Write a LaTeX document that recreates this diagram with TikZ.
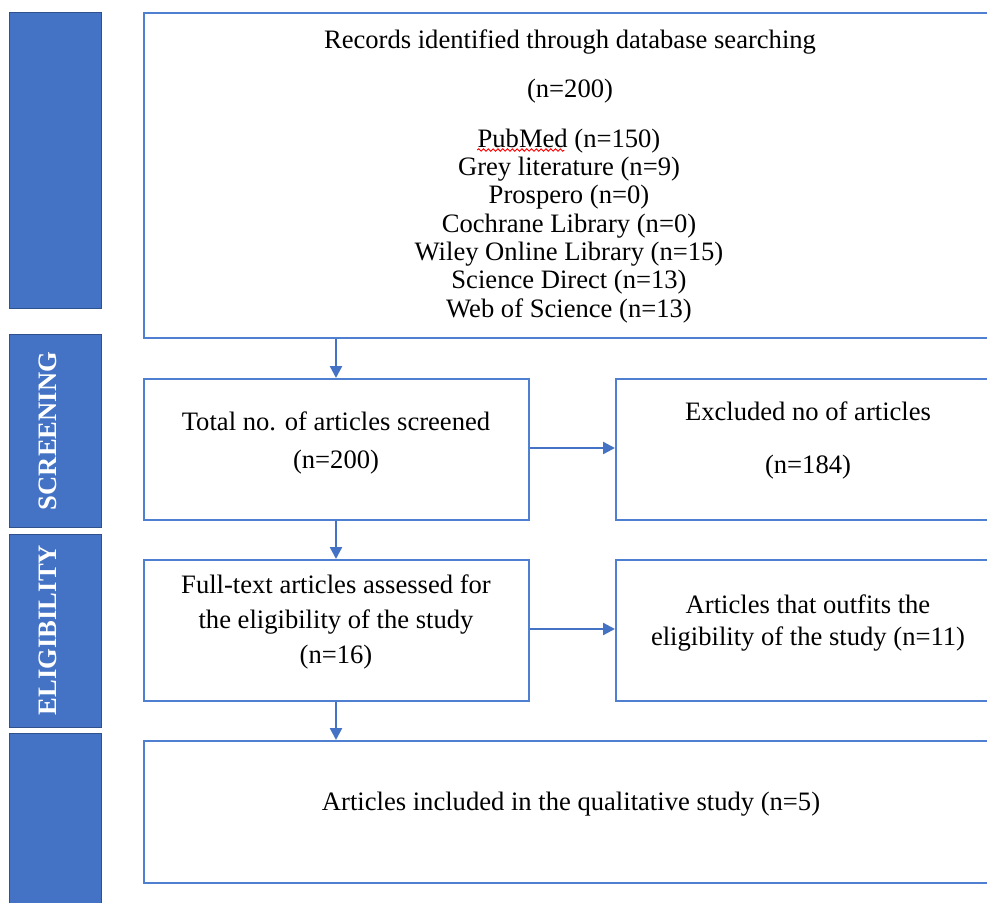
\documentclass[tikz,border=0pt]{standalone}
\usepackage{fontspec}
\setmainfont{Liberation Serif}
\usetikzlibrary{arrows.meta,decorations.pathmorphing}
\definecolor{bluefill}{HTML}{4472C4}
\definecolor{blueedge}{HTML}{2F528F}
\definecolor{boxedge}{HTML}{4F7FD0}
\begin{document}
\begin{tikzpicture}[x=0.5pt,y=-0.5pt,
  stage/.style={draw=blueedge,line width=0.4pt,fill=bluefill,anchor=north west,inner sep=0pt},
  flowbox/.style={draw=boxedge,line width=0.8pt,anchor=north west,inner sep=0pt},
  txt/.style={anchor=base,inner sep=0pt,font=\fontsize{13.3}{15}\selectfont},
  stagetxt/.style={rotate=90,inner sep=0pt,text=white,font=\fontsize{13.3}{15}\selectfont\bfseries},
  flow/.style={draw=bluefill,line width=1.2pt,-{Triangle[width=6pt,length=6pt]}}]
\useasboundingbox (0,0) rectangle (987,902);
\clip (0,0) rectangle (987,902);
% stage bars
\node[stage,minimum width=46pt,minimum height=148pt] (bar1) at (9,12) {};
\node[stage,minimum width=46pt,minimum height=96.5pt] (bar2) at (9,334) {};
\node[stage,minimum width=46pt,minimum height=96.5pt] (bar3) at (9,534) {};
\node[stage,minimum width=46pt,minimum height=100pt] (bar4) at (9,733) {};
\node[stagetxt] (lab2) at (47.5,431) {SCREENING};
\node[stagetxt] (lab3) at (47.5,630) {ELIGIBILITY};
% boxes
\node[flowbox,minimum width=430pt,minimum height=162.5pt] (rec) at (143,12) {};
\node[flowbox,minimum width=192.5pt,minimum height=70.5pt] (scr) at (143,378) {};
\node[flowbox,minimum width=200pt,minimum height=70.5pt] (exc) at (615,378) {};
\node[flowbox,minimum width=192.5pt,minimum height=70.5pt] (ful) at (143,559) {};
\node[flowbox,minimum width=200pt,minimum height=70.5pt] (out) at (615,559) {};
\node[flowbox,minimum width=430pt,minimum height=71pt] (inc) at (143,740) {};
% texts
\node[txt] (t1) at (570,48) {Records identified through database searching};
\node[txt] (t2) at (570,97) {(n=200)};
\node[txt] (t3) at (569,147) {PubMed (n=150)};
\node[txt] (t4) at (569,175) {Grey literature (n=9)};
\node[txt] (t5) at (569,203.5) {Prospero (n=0)};
\node[txt] (t6) at (569,232) {Cochrane Library (n=0)};
\node[txt] (t7) at (569,260) {Wiley Online Library (n=15)};
\node[txt] (t8) at (569,288.5) {Science Direct (n=13)};
\node[txt] (t9) at (569,317) {Web of Science (n=13)};
\draw[red,line width=0.45pt,decorate,decoration={snake,amplitude=0.6pt,segment length=2.4pt}] (t3.base west) ++(0,3) coordinate (sq1) -- ++(87,0) coordinate (sq2);
\node[txt] (s1) at (336,430) {Total no. of articles screened};
\node[txt] (s2) at (336,468) {(n=200)};
\node[txt] (e1) at (808,420) {Excluded no of articles};
\node[txt] (e2) at (808,473) {(n=184)};
\node[txt] (f1) at (336,593) {Full-text articles assessed for};
\node[txt] (f2) at (336,628) {the eligibility of the study};
\node[txt] (f3) at (336,663) {(n=16)};
\node[txt] (o1) at (808,613) {Articles that outfits the};
\node[txt] (o2) at (808,645) {eligibility of the study (n=11)};
\node[txt] (i1) at (571,810) {Articles included in the qualitative study (n=5)};
% connectors
\draw[flow] (rec.south west) ++(193,0) coordinate (a1) -- (a1 |- scr.north);
\draw[flow] (scr.south west) ++(193,0) coordinate (a2) -- (a2 |- ful.north);
\draw[flow] (ful.south west) ++(193,0) coordinate (a3) -- (a3 |- inc.north);
\draw[flow] (scr.east |- 0,448) coordinate (h1) -- (h1 -| exc.west);
\draw[flow] (ful.east |- 0,629) coordinate (h2) -- (h2 -| out.west);
\end{tikzpicture}
\end{document}
